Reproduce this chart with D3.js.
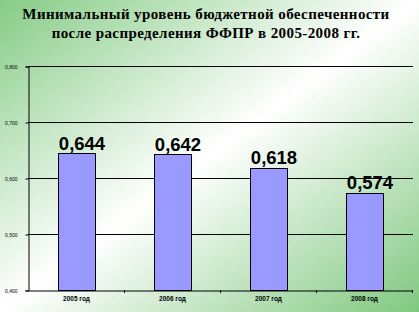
<!DOCTYPE html>
<html><head><meta charset="utf-8">
<script src="https://cdn.jsdelivr.net/npm/d3@7"></script>
<style>html,body{margin:0;padding:0;overflow:hidden;background:#fff}</style>
</head><body>
<svg id="c" width="419" height="312"></svg>
<script>
const titleLines = ["Минимальный уровень бюджетной обеспеченности", "после распределения ФФПР в 2005-2008 гг."];
const categories = ["2005 год", "2006 год", "2007 год", "2008 год"];
const values = [0.644, 0.642, 0.618, 0.574];
const valueLabels = ["0,644", "0,642", "0,618", "0,574"];
const yTicks = [0.4, 0.5, 0.6, 0.7, 0.8];
const yTickLabels = ["0,400", "0,500", "0,600", "0,700", "0,800"];

(function(){
const svg = d3.select("#c");
const W = 419, H = 312;
const defs = svg.append("defs");
const g = defs.append("linearGradient").attr("id","bg").attr("x1","0").attr("y1","0").attr("x2","1").attr("y2","1");
g.append("stop").attr("offset","0").attr("stop-color","#86cc86");
g.append("stop").attr("offset","0.5").attr("stop-color","#ffffff");
g.append("stop").attr("offset","1").attr("stop-color","#7fc87f");
svg.append("rect").attr("width",W).attr("height",H).attr("fill","url(#bg)");

svg.append("g").selectAll("text").data(titleLines).join("text")
  .attr("x", 206).attr("y", (d,i)=>19+i*18.5)
  .attr("text-anchor","middle")
  .style("font-family","'Liberation Serif', 'Times New Roman', serif")
  .attr("font-weight","bold").attr("font-size",15)
  .attr("letter-spacing",0.4)
  .attr("fill","#000").text(d=>d);

const pl = 28, pr = 412, pt = 66, pb = 290;
const x = d3.scaleBand().domain(categories).range([pl, pr]).paddingInner(0.615).paddingOuter(0.3075);
const y = d3.scaleLinear().domain([0.4, 0.8]).range([pb, pt]);

svg.append("g").selectAll("line").data(yTicks.slice(1)).join("line")
  .attr("x1", pl).attr("x2", pr+1).attr("y1", d=>Math.round(y(d))+0.5).attr("y2", d=>Math.round(y(d))+0.5)
  .attr("stroke","#000").attr("stroke-width",1);

const ya = svg.append("g").attr("transform",`translate(${pl+0.5},0.5)`)
  .call(d3.axisLeft(y).tickValues(yTicks).tickSize(3).tickFormat((d,i)=>yTickLabels[i]));
ya.select(".domain").attr("stroke","#000");
ya.selectAll("text").attr("font-family","Arial,'Liberation Sans',sans-serif").attr("font-size",5).attr("fill","#000").attr("dx",-5);

svg.append("g").selectAll("rect").data(values).join("rect")
  .attr("x",(d,i)=>Math.round(x(categories[i]))+0.5).attr("y",d=>Math.round(y(d))+0.5)
  .attr("width",Math.round(x.bandwidth())).attr("height",d=>pb-Math.round(y(d)))
  .attr("fill","#9999ff").attr("stroke","#000").attr("stroke-width",1);

const x2 = d3.scaleBand().domain(categories).range([pl,pr]);
const xa = svg.append("g").attr("transform",`translate(0.5,${pb+0.5})`)
  .call(d3.axisBottom(x2).tickSize(0).tickSizeOuter(0));
xa.select(".domain").attr("stroke","#000");
xa.selectAll("text").attr("font-family","Arial,'Liberation Sans',sans-serif").attr("font-size",6.5).attr("font-weight","bold").attr("fill","#000").attr("dy","1.2em");
svg.append("g").selectAll("line").data(categories).join("line")
  .attr("x1",d=>Math.round(x2(d)+x2.bandwidth())+0.5).attr("x2",d=>Math.round(x2(d)+x2.bandwidth())+0.5)
  .attr("y1",pb).attr("y2",pb+3).attr("stroke","#000");

svg.append("g").selectAll("text").data(values).join("text")
  .attr("x",(d,i)=>x(categories[i])+x.bandwidth()/2+6).attr("y",d=>y(d)-3.5)
  .attr("text-anchor","middle")
  .attr("font-family","Arial,'Liberation Sans',sans-serif").attr("font-weight","bold").attr("font-size",18.5)
  .attr("fill","#000").text((d,i)=>valueLabels[i]);
})();
</script>
</body></html>
